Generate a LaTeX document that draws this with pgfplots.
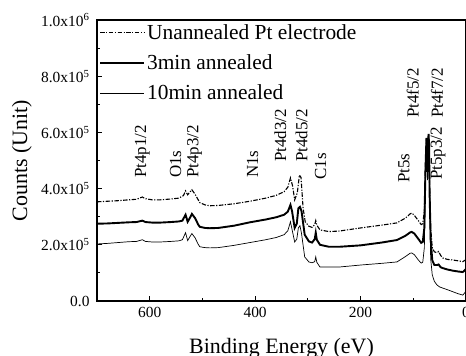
\documentclass[border=0pt]{standalone}
\usepackage{fontspec}
\setmainfont{Liberation Serif}
\usepackage{pgfplots}
\pgfplotsset{compat=1.18}
\begin{document}
\begin{tikzpicture}
\useasboundingbox (-97bp,-55bp) rectangle (369bp,301bp);
\begin{axis}[
  scale only axis, width=369bp, height=281bp,
  x dir=reverse, xmin=0, xmax=700, ymin=0, ymax=1e6,
  axis line style={line width=1.3bp},
  xtick={600,400,200,0}, xticklabels={600,400,200,0},
  minor x tick num=1,
  ytick={0,2e5,4e5,6e5,8e5,1e6},
  yticklabels={0.0,2.0x10\textsuperscript{5},4.0x10\textsuperscript{5},6.0x10\textsuperscript{5},8.0x10\textsuperscript{5},1.0x10\textsuperscript{6}},
  minor y tick num=1,
  scaled y ticks=false,
  tick align=inside, tick pos=left,
  major tick length=5bp, minor tick length=3.5bp,
  every tick/.style={line width=1bp, black},
  tick label style={font=\fontsize{15.5}{17}\selectfont},
  xticklabel style={yshift=-3bp},
  yticklabel style={xshift=-4bp},
  xlabel={Binding Energy (eV)}, ylabel={Counts (Unit)},
  label style={font=\fontsize{22}{24}\selectfont},
  xlabel style={at={(axis description cs:0.5,0)}, anchor=base, yshift=-52bp},
  ylabel style={at={(axis description cs:-0.2033,0.5)}, anchor=center},
  legend style={at={(0,1)}, anchor=north west, draw=none, fill=none,
    font=\fontsize{21.5}{24}\selectfont, inner xsep=2bp, inner ysep=2bp,
    row sep=10bp},
  legend cell align=left,
  legend image code/.code={\draw[#1] (0bp,0bp) -- (39bp,0bp); \path (0bp,0bp) -- (44bp,0bp);},
]
\addplot[black, line width=1.1bp, dash pattern=on 4.5bp off 1.5bp on 1.2bp off 1.5bp] coordinates {
(700,3.53e5)(680,3.55e5)(660,3.57e5)(640,3.60e5)(625,3.62e5)(614,3.70e5)(608,3.64e5)(595,3.60e5)
(580,3.60e5)(560,3.63e5)(545,3.66e5)(536,3.75e5)(532,3.92e5)(528,3.78e5)(520,3.96e5)(514,3.80e5)
(505,3.50e5)(495,3.42e5)(486,3.39e5)(470,3.40e5)(440,3.46e5)(410,3.55e5)(380,3.66e5)(360,3.76e5)
(345,3.89e5)(338,4.05e5)(333,4.38e5)(329,4.1e5)(325,3.60e5)(320,3.85e5)(316,4.48e5)(313,4.40e5)
(309,3.3e5)(305,2.82e5)(298,2.66e5)(292,2.62e5)(287,2.72e5)(285,2.86e5)(283,2.70e5)(277,2.53e5)
(260,2.47e5)(240,2.49e5)(200,2.6e5)(160,2.7e5)(131,2.78e5)(115,2.95e5)(106,3.10e5)(103,3.13e5)
(98,3.05e5)(90,2.85e5)(85,2.72e5)(82,2.75e5)(79,3.2e5)(77,4.8e5)(75,5.75e5)(74,5.6e5)(73,4.8e5)
(72,5.5e5)(71,5.9e5)(70,5.5e5)(69,4.0e5)(67,2.6e5)(64,1.9e5)(60,1.75e5)(55,1.72e5)(52,1.76e5)
(48,1.62e5)(44,1.53e5)(35,1.48e5)(25,1.46e5)(15,1.43e5)(6,1.40e5)(2,1.45e5)(0,1.48e5)};
\addlegendentry{Unannealed Pt electrode}
\addplot[black, line width=1.9bp] coordinates {
(700,2.75e5)(680,2.76e5)(660,2.78e5)(640,2.80e5)(625,2.81e5)(614,2.86e5)(608,2.81e5)(595,2.79e5)
(580,2.79e5)(560,2.81e5)(545,2.83e5)(538,2.86e5)(532,3.07e5)(528,2.82e5)(524,2.95e5)(520,3.10e5)
(514,2.95e5)(508,2.72e5)(505,2.64e5)(495,2.60e5)(486,2.59e5)(470,2.60e5)(440,2.68e5)(410,2.80e5)
(380,2.90e5)(360,2.98e5)(345,3.07e5)(338,3.18e5)(333,3.42e5)(330,3.2e5)(325,2.60e5)(321,2.75e5)
(318,3.3e5)(315,3.35e5)(312,3.2e5)(306,2.36e5)(298,2.12e5)(292,2.08e5)(287,2.20e5)(285,2.43e5)
(283,2.18e5)(277,2.00e5)(260,1.93e5)(240,1.93e5)(200,1.98e5)(160,2.08e5)(131,2.17e5)(115,2.32e5)
(106,2.44e5)(103,2.46e5)(98,2.40e5)(90,2.20e5)(85,2.07e5)(82,2.10e5)(79,2.6e5)(77,4.6e5)(75,5.8e5)
(74,5.6e5)(73,4.6e5)(72,5.6e5)(71,5.95e5)(70,5.5e5)(69,3.8e5)(67,2.2e5)(64,1.45e5)(60,1.28e5)
(55,1.28e5)(52,1.30e5)(48,1.20e5)(44,1.17e5)(35,1.12e5)(25,1.08e5)(15,1.05e5)(6,1.03e5)(2,1.10e5)(0,1.14e5)};
\addlegendentry{3min annealed}
\addplot[black, line width=0.7bp] coordinates {
(700,2.03e5)(680,2.05e5)(660,2.08e5)(640,2.11e5)(625,2.12e5)(614,2.18e5)(608,2.12e5)(595,2.10e5)
(580,2.10e5)(560,2.12e5)(545,2.14e5)(538,2.18e5)(532,2.43e5)(528,2.15e5)(524,2.28e5)(520,2.40e5)
(514,2.25e5)(508,2.02e5)(505,1.93e5)(495,1.90e5)(486,1.89e5)(470,1.90e5)(440,1.98e5)(410,2.08e5)
(380,2.18e5)(360,2.26e5)(345,2.36e5)(338,2.5e5)(333,2.82e5)(330,2.55e5)(325,2.10e5)(321,2.2e5)
(318,2.6e5)(315,2.68e5)(312,2.4e5)(306,1.57e5)(298,1.39e5)(292,1.36e5)(287,1.40e5)(285,1.57e5)
(283,1.38e5)(277,1.21e5)(260,1.21e5)(240,1.21e5)(200,1.28e5)(160,1.34e5)(131,1.39e5)(115,1.58e5)
(106,1.70e5)(103,1.71e5)(98,1.65e5)(90,1.45e5)(85,1.35e5)(82,1.38e5)(79,1.9e5)(77,4.3e5)(75,5.5e5)
(74,5.3e5)(73,4.3e5)(72,5.4e5)(71,5.85e5)(70,5.3e5)(69,3.5e5)(67,1.5e5)(64,0.93e5)(60,0.70e5)
(55,0.57e5)(50,0.50e5)(44,0.46e5)(35,0.40e5)(25,0.33e5)(15,0.26e5)(6,0.21e5)(2,0.30e5)(0,0.39e5)};
\addlegendentry{10min annealed}
\begin{scope}[every node/.style={rotate=90, anchor=west, inner sep=0pt, font=\fontsize{17}{19}\selectfont}]
\node at (axis cs:614,4.38e5) {Pt4p1/2};
\node at (axis cs:551,4.38e5) {O1s};
\node at (axis cs:515,4.38e5) {Pt4p3/2};
\node at (axis cs:405,4.38e5) {N1s};
\node at (axis cs:352,4.95e5) {Pt4d3/2};
\node at (axis cs:312,4.95e5) {Pt4d5/2};
\node at (axis cs:276,4.31e5) {C1s};
\node at (axis cs:118,4.2e5) {Pt5s};
\node at (axis cs:101,6.51e5) {Pt4f5/2};
\node at (axis cs:55,6.51e5) {Pt4f7/2};
\node at (axis cs:53,4.31e5) {Pt5p3/2};
\end{scope}
\end{axis}
\end{tikzpicture}
\end{document}
